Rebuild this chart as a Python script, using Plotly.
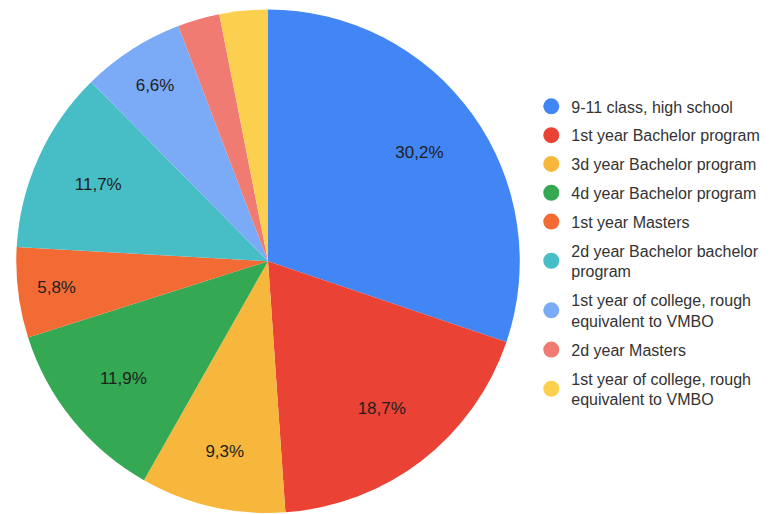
import plotly.graph_objects as go

categories = [
    "9-11 class, high school",
    "1st year Bachelor program",
    "3d year Bachelor program",
    "4d year Bachelor program",
    "1st year Masters",
    "2d year Bachelor bachelor<br>program",
    "1st year of college, rough<br>equivalent to VMBO",
    "2d year Masters",
    "1st year of college, rough<br>equivalent to VMBO ",
]
shares = [30.2, 18.7, 9.3, 11.9, 5.8, 11.7, 6.6, 2.7, 3.1]
colors = ["#4285F4", "#EA4335", "#F6B73C", "#34A853", "#F26B35",
          "#47BDC6", "#7BAAF7", "#F07B72", "#FCD04F"]

# percent labels with a decimal comma; very thin slices stay unlabeled
labels_text = [(f"{v:.1f}%".replace(".", ",") if v >= 5 else "") for v in shares]

pie_domain = dict(x=[0.0193, 0.6688], y=[0.002, 0.9815])

fig = go.Figure()
# filled slices
fig.add_trace(go.Pie(
    labels=categories,
    values=shares,
    textinfo="none",
    marker=dict(colors=colors, line=dict(width=0)),
    sort=False,
    direction="clockwise",
    rotation=0,
    showlegend=False,
    hoverinfo="label+percent",
    domain=pie_domain,
))
# transparent ring on top that carries the percent labels in the outer band
fig.add_trace(go.Pie(
    labels=categories,
    values=shares,
    text=labels_text,
    textinfo="text",
    textposition="inside",
    insidetextorientation="horizontal",
    textfont=dict(family="Liberation Sans, Arial", size=17, color="#1e1e1e"),
    hole=0.48,
    marker=dict(colors=["rgba(0,0,0,0)"] * len(shares), line=dict(width=0)),
    sort=False,
    direction="clockwise",
    rotation=0,
    showlegend=False,
    hoverinfo="skip",
    domain=pie_domain,
))

# legend entries with round markers, one group per category
for i, (name, col) in enumerate(zip(categories, colors)):
    fig.add_trace(go.Scatter(
        x=[None], y=[None], mode="markers", name=name,
        marker=dict(symbol="circle", size=16, color=col),
        legendgroup=f"g{i}", showlegend=True,
    ))

fig.update_xaxes(visible=False)
fig.update_yaxes(visible=False)
fig.update_layout(
    width=779, height=514,
    margin=dict(l=0, r=0, t=0, b=0),
    paper_bgcolor="white", plot_bgcolor="white",
    legend=dict(
        x=0.682, y=0.826, xanchor="left", yanchor="top",
        font=dict(family="Liberation Sans, Arial", size=16, color="#333333"),
        tracegroupgap=5,
        itemclick=False,
    ),
)

fig.write_html("out.html")
